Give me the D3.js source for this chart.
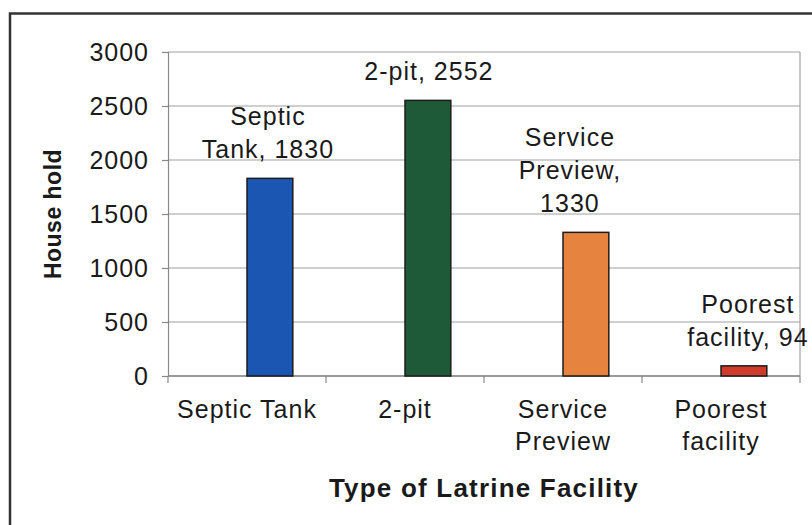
<!DOCTYPE html>
<html>
<head>
<meta charset="utf-8">
<script src="https://cdn.jsdelivr.net/npm/d3@7/dist/d3.min.js"></script>
<style>
  html, body { margin: 0; padding: 0; background: #fff; }
  svg { display: block; font-family: "Liberation Sans", Arial, sans-serif; }
</style>
</head>
<body>
<svg id="chart" width="812" height="525"></svg>
<script>
// Household counts by latrine type
const categories = ["Septic Tank", "2-pit", "Service Preview", "Poorest facility"];
const axisLabelLines = [["Septic Tank"], ["2-pit"], ["Service", "Preview"], ["Poorest", "facility"]];
const households = [1830, 2552, 1330, 94];
// data label text; {v} is replaced by the value
const dataLabelLines = [["Septic", "Tank, {v}"], ["2-pit, {v}"], ["Service", "Preview,", "{v}"], ["Poorest", "facility, {v}"]];
const yTicks = [0, 500, 1000, 1500, 2000, 2500, 3000];
const barColors = ["#1b56b2", "#1f5a38", "#e6843f", "#cf3a2b"];
const yTitle = "House hold";
const xTitle = "Type of Latrine Facility";

const svg = d3.select("#chart");
const plot = { left: 168, right: 800, top: 52, bottom: 376 };
const LS = 1; // letter spacing of regular text

// outer frame (top and left edges visible)
svg.append("path")
  .attr("d", "M10,525 V13.5 H812")
  .attr("fill", "none").attr("stroke", "#333").attr("stroke-width", 2.5);

const x = d3.scaleBand().domain(categories).range([plot.left, plot.right]).padding(0);
const y = d3.scaleLinear().domain([0, 3000]).range([plot.bottom, plot.top]);

// gridlines
svg.append("g").selectAll("line").data(yTicks).join("line")
  .attr("x1", plot.left).attr("x2", plot.right)
  .attr("y1", d => y(d)).attr("y2", d => y(d))
  .attr("stroke", "#a0a0a0").attr("stroke-width", 1.2);

// plot frame right side
svg.append("line")
  .attr("x1", plot.right).attr("x2", plot.right)
  .attr("y1", plot.top).attr("y2", plot.bottom)
  .attr("stroke", "#a0a0a0").attr("stroke-width", 1.2);

// y axis
const yAxis = svg.append("g").attr("transform", `translate(${plot.left},0)`)
  .call(d3.axisLeft(y).tickValues(yTicks).tickSize(6).tickPadding(13).tickFormat(d3.format("d")));
yAxis.select(".domain").attr("stroke", "#888").attr("stroke-width", 1.2);
yAxis.selectAll(".tick line").attr("stroke", "#888").attr("stroke-width", 1.2);
yAxis.selectAll(".tick text")
  .attr("font-size", 25).attr("fill", "#1a1a1a").attr("letter-spacing", LS)
  .attr("font-family", "Liberation Sans, Arial, sans-serif");

// x axis with ticks at category boundaries
const xAxisG = svg.append("g").attr("transform", `translate(0,${plot.bottom})`);
xAxisG.append("line")
  .attr("x1", plot.left).attr("x2", plot.right)
  .attr("stroke", "#888").attr("stroke-width", 1.5);
const boundaries = categories.map(c => x(c)).concat([x.range()[1]]);
xAxisG.selectAll("line.tk").data(boundaries).join("line").attr("class", "tk")
  .attr("x1", d => d).attr("x2", d => d).attr("y1", 0).attr("y2", 7)
  .attr("stroke", "#888").attr("stroke-width", 1.2);

// category labels
const xLab = svg.append("g");
categories.forEach((c, i) => {
  const t = xLab.append("text")
    .attr("x", x(c) + x.bandwidth() / 2).attr("y", 418)
    .attr("text-anchor", "middle").attr("font-size", 25)
    .attr("letter-spacing", LS).attr("fill", "#1a1a1a");
  axisLabelLines[i].forEach((line, j) => {
    t.append("tspan").attr("x", x(c) + x.bandwidth() / 2).attr("dy", j === 0 ? 0 : 32).text(line);
  });
});

// bars: start at band centre
const barW = x.bandwidth() * 0.29;
svg.append("g").selectAll("rect").data(households).join("rect")
  .attr("x", (d, i) => x(categories[i]) + x.bandwidth() / 2)
  .attr("y", d => y(d))
  .attr("width", barW)
  .attr("height", d => y(0) - y(d))
  .attr("fill", (d, i) => barColors[i])
  .attr("stroke", "#1c1c1c").attr("stroke-width", 1.5);

// data labels above bars
const labelShift = [-2, 1, -16, 4];
const dl = svg.append("g");
households.forEach((v, i) => {
  const lines = dataLabelLines[i].map(s => s.replace("{v}", v));
  const cx = x(categories[i]) + x.bandwidth() / 2 + barW / 2 + labelShift[i];
  const lastBase = y(v) - 20;
  const t = dl.append("text")
    .attr("text-anchor", "middle").attr("font-size", 25)
    .attr("letter-spacing", LS).attr("fill", "#1a1a1a");
  lines.forEach((line, j) => {
    t.append("tspan").attr("x", cx)
      .attr("y", lastBase - (lines.length - 1 - j) * 33)
      .text(line);
  });
});

// axis titles
svg.append("text")
  .attr("transform", `translate(61,${(plot.top + plot.bottom) / 2}) rotate(-90)`)
  .attr("text-anchor", "middle").attr("font-size", 23).attr("font-weight", "bold")
  .attr("letter-spacing", 0.5).attr("fill", "#1a1a1a").text(yTitle);

svg.append("text")
  .attr("x", (plot.left + plot.right) / 2).attr("y", 497)
  .attr("text-anchor", "middle").attr("font-size", 26).attr("font-weight", "bold")
  .attr("letter-spacing", 1.2).attr("fill", "#1a1a1a").text(xTitle);
</script>
</body>
</html>
